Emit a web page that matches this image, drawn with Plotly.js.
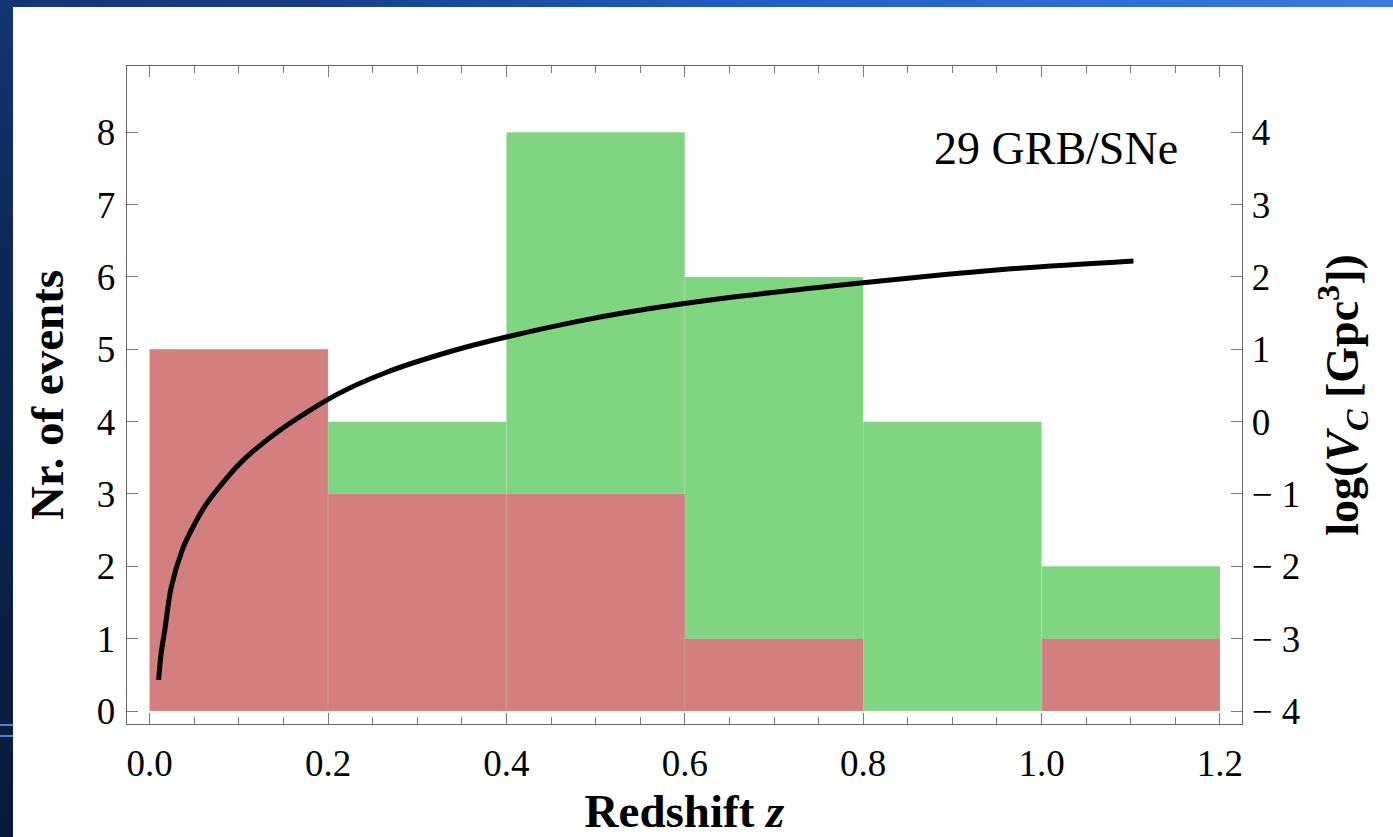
<!DOCTYPE html>
<html>
<head>
<meta charset="utf-8">
<script src="https://cdn.plot.ly/plotly-3.0.1.min.js"></script>
<style>
  html, body { margin: 0; padding: 0; width: 1393px; height: 837px; overflow: hidden; }
  body {
    background: linear-gradient(to top right, #0a1a3b 0%, #0e2856 35%, #163e88 60%, #2262cd 80%, #3a7cdb 100%);
    position: relative;
  }
  #chart { position: absolute; left: 13px; top: 7px; width: 1380px; height: 830px; background: #fff; }
  .rule { position: absolute; left: 0; width: 13px; height: 2px; background: #4f7fd0; }
</style>
</head>
<body>
<div class="rule" style="top:724px"></div>
<div class="rule" style="top:735px"></div>
<div id="chart"></div>
<script>
// Redshift bins (centres) and counts per bin
const binCenters = [0.1, 0.3, 0.5, 0.7, 0.9, 1.1];
const allEvents  = [5, 4, 8, 6, 4, 2];   // all GRB/SNe
const subsetEvents = [5, 3, 3, 1, 0, 1]; // highlighted subset

// Comoving volume curve, log10(V_C / Gpc^3) against redshift
const curveZ = [0.010, 0.013, 0.017, 0.024, 0.037, 0.048, 0.064, 0.101, 0.146, 0.209,
                0.265, 0.340, 0.400, 0.490, 0.565, 0.639, 0.800, 0.953, 1.103];
const curveLogV = [-3.57, -3.19, -2.88, -2.30, -1.76, -1.47, -1.13, -0.58, -0.12, 0.37,
                   0.68, 0.98, 1.17, 1.41, 1.57, 1.70, 1.92, 2.10, 2.22];

// Right-axis tick labels
const rightTickVals = [-4, -3, -2, -1, 0, 1, 2, 3, 4];
const rightTickText = ['\u2212 4', '\u2212 3', '\u2212 2', '\u2212 1', '0', '1', '2', '3', '4'];

const serif = "'Liberation Serif', 'Times New Roman', serif";
const tickGrey = '#7a7a7a';

const traces = [
  {
    type: 'bar', x: binCenters, y: allEvents, width: 0.2,
    marker: { color: 'rgb(128,213,128)', line: { color: 'rgba(255,255,255,0.15)', width: 0.6 } },
    hoverinfo: 'x+y', showlegend: false
  },
  {
    type: 'bar', x: binCenters, y: subsetEvents, width: 0.2,
    marker: { color: 'rgb(211,127,127)', line: { color: 'rgba(255,255,255,0.15)', width: 0.6 } },
    hoverinfo: 'x+y', showlegend: false
  },
  {
    type: 'scatter', mode: 'lines', x: curveZ, y: curveLogV, yaxis: 'y2',
    line: { color: '#000', width: 5, shape: 'spline', smoothing: 0.8 },
    showlegend: false
  }
];

const layout = {
  width: 1380, height: 830,
  margin: { l: 114, r: 151, t: 59, b: 113 },
  paper_bgcolor: '#fff', plot_bgcolor: '#fff',
  barmode: 'overlay', bargap: 0,
  font: { family: serif, color: '#000', size: 37 },
  xaxis: {
    range: [-0.0254, 1.2247], tick0: 0, dtick: 0.2, tickformat: '.1f',
    ticks: 'inside', ticklen: 11, tickcolor: tickGrey, tickwidth: 1,
    minor: { dtick: 0.05, ticks: 'inside', ticklen: 7, tickcolor: tickGrey, tickwidth: 1 },
    showline: true, linecolor: '#666', linewidth: 1.3, mirror: 'ticks',
    showgrid: false, zeroline: false,
    tickfont: { family: serif, size: 37, color: '#000' },
    ticklabelstandoff: 6,
    title: { text: '<b>Redshift <i>z</i></b>', font: { family: serif, size: 47, color: '#000' }, standoff: 20 }
  },
  yaxis: {
    range: [-0.1797, 8.9165], tick0: 0, dtick: 1,
    ticks: 'inside', ticklen: 11, tickcolor: tickGrey, tickwidth: 1,
    showline: true, linecolor: '#666', linewidth: 1.3,
    showgrid: false, zeroline: false,
    tickfont: { family: serif, size: 37, color: '#000' },
    ticklabelstandoff: 3,
    title: { text: '<b>Nr. of events</b>', font: { family: serif, size: 47, color: '#000' }, standoff: 18 }
  },
  yaxis2: {
    overlaying: 'y', side: 'right',
    range: [-4.1797, 4.9165],
    tickmode: 'array', tickvals: rightTickVals, ticktext: rightTickText,
    ticks: 'inside', ticklen: 11, tickcolor: tickGrey, tickwidth: 1,
    showline: true, linecolor: '#666', linewidth: 1.3,
    showgrid: false, zeroline: false,
    tickfont: { family: serif, size: 37, color: '#000' },
    ticklabelstandoff: 1,
    title: { text: '<b>log(<i>V</i><sub><i>C</i></sub> [Gpc<sup>3</sup>])</b>', font: { family: serif, size: 46, color: '#000' }, standoff: 26 }
  },
  annotations: [
    {
      text: '29 GRB/SNe',
      xref: 'x', yref: 'y', x: 1.016, y: 7.78,
      xanchor: 'center', yanchor: 'middle', showarrow: false,
      font: { family: serif, size: 46, color: '#000' }
    }
  ]
};

Plotly.newPlot('chart', traces, layout, { displayModeBar: false, staticPlot: true });
</script>
</body>
</html>
